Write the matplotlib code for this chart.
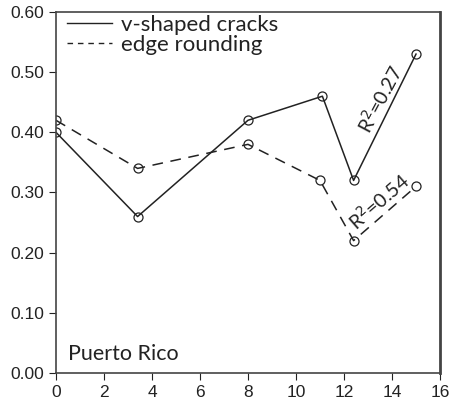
import matplotlib.pyplot as plt
from matplotlib.lines import Line2D

# data
x_v = [0, 3.4, 8, 11.1, 12.4, 15]
y_v = [0.40, 0.26, 0.42, 0.46, 0.32, 0.53]
x_e = [0, 3.4, 8, 11.0, 12.4, 15]
y_e = [0.42, 0.34, 0.38, 0.32, 0.22, 0.31]
xticks = [0, 2, 4, 6, 8, 10, 12, 14, 16]
yticks = [0.0, 0.1, 0.2, 0.3, 0.4, 0.5, 0.6]

plt.rcParams['font.family'] = ['Liberation Sans', 'DejaVu Sans']
dash = (0, (7, 5))

fig = plt.figure(figsize=(4.57, 4.12), dpi=100)
ax = fig.add_axes([0.1225, 0.0947, 0.8403, 0.8762])

ax.plot(x_v, y_v, color='#222222', lw=1.1, marker='o', ms=6.5, mfc='none',
        mec='#222222', mew=0.9)
ax.plot(x_e, y_e, color='#222222', lw=1.1, ls=dash, marker='o', ms=6.5,
        mfc='none', mec='#222222', mew=0.9)

ax.set_xlim(0, 16)
ax.set_ylim(0, 0.6)
ax.set_xticks(xticks)
ax.set_yticks(yticks)
ax.set_yticklabels(['%.2f' % v for v in yticks])
ax.tick_params(labelsize=12.5, direction='out', length=5, colors='#222222')

for s in ax.spines.values():
    s.set_color('#444444')
    s.set_linewidth(1.2)
ax.spines['right'].set_linewidth(2)

handles = [Line2D([], [], color='#222222', lw=1.0),
           Line2D([], [], color='#222222', lw=1.0, ls=(0, (4, 3.5)))]
leg = ax.legend(handles, ['v-shaped cracks', 'edge rounding'], loc='upper left',
                bbox_to_anchor=(0.018, 1.005),
                frameon=False, handlelength=2.0, borderaxespad=0.0,
                labelspacing=0.0, handletextpad=0.4, borderpad=0.2,
                prop={'family': 'Lato', 'size': 16})
for t in leg.get_texts():
    t.set_color('#222222')

ax.text(0.5, 0.022, 'Puerto Rico', family='Lato', fontsize=15.5, color='#222222')
ax.text(13.5, 0.455, 'R$^2$=0.27', rotation=62, ha='center', va='center',
        family='Lato', fontsize=14, color='#222222')
ax.text(13.45, 0.285, 'R$^2$=0.54', rotation=41, ha='center', va='center',
        family='Lato', fontsize=14, color='#222222')

fig.savefig('out.png', dpi=100)
